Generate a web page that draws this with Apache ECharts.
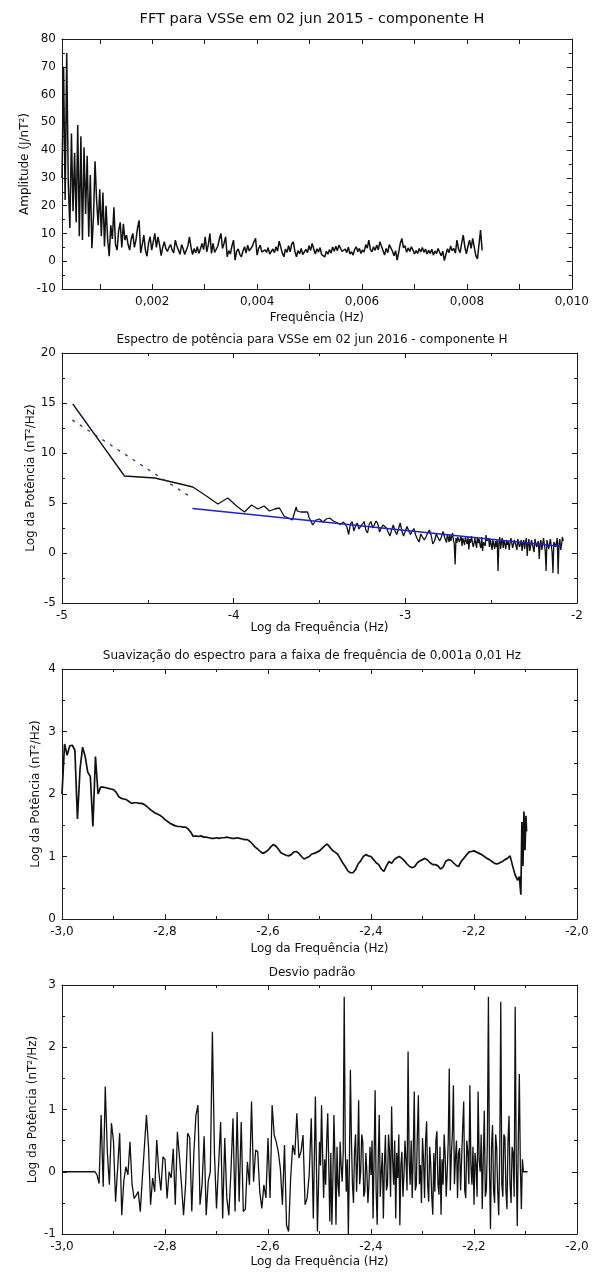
<!DOCTYPE html>
<html>
<head>
<meta charset="utf-8">
<script src="https://cdn.jsdelivr.net/npm/echarts@6/dist/echarts.min.js"></script>
<style>
  html, body { margin: 0; padding: 0; background: #fff; }
  #chart { width: 592px; height: 1273px; }
</style>
</head>
<body>
<div id="chart"></div>
<script>
// Panel 1 - FFT amplitude, one value every 0.00003 Hz from 0.00028 Hz
const fftFreqStart = 0.00028
const fftFreqStep = 0.00003
const fftAmp = [
  30, 70, 22, 75, 28, 12, 46, 18, 39, 14,
  49, 9, 45, 7.6, 41, 17, 38, 8.8, 31, 4.7,
  16, 36, 21.8, 13, 25.9, 9, 24.7, 5.3, 20, 8,
  1.8, 12.9, 8, 19.4, 6, 4, 11, 14, 5, 13.5,
  7.6, 9.4, 6, 4, 8, 10, 5, 7.6, 12, 14.7,
  3, 6, 9.4, 4, 1.8, 6.5, 8.8, 4, 7, 10,
  5, 8.8, 6, 2, 5, 7, 4.5, 3.5, 5, 6,
  4, 3, 7.6, 5.5, 4, 2.5, 6, 4.5, 2.4, 2,
  5.5, 8.8, 5, 2.4, 4.6, 3, 5.2, 2.8, 4.5, 6.4,
  4.2, 8.8, 3.4, 6, 10, 2.8, 6.4, 3.2, 2.8, 5.4,
  8, 10, 4.6, 6.5, 8.8, 1.6, 3.8, 2.6, 5.5, 7.6,
  0.4, 3.6, 4.4, 2.5, 1.6, 3.6, 5.2, 2.9, 5.8, 3.7,
  3.2, 5.4, 7, 8.2, 2.2, 4.6, 5.8, 3.3, 2.6, 4.1,
  3.2, 4.9, 2.6, 2.2, 4.4, 3.1, 5.2, 3.6, 7.2, 7.8,
  3, 1.6, 4.4, 3.2, 5.6, 3.4, 6.2, 7, 3.6, 1.6,
  3.8, 2.7, 4.6, 2.4, 2.2, 4.3, 3.1, 5.6, 3.9, 6.4,
  4.4, 2.6, 4.5, 3.3, 4.9, 2.4, 3.1, 1.6, 3.6, 2.5,
  4.2, 2.9, 5.1, 3.6, 5.4, 3.8, 5.8, 6.2, 3.5, 2.8,
  4.4, 3.1, 5.1, 2.6, 3.4, 2.2, 4.3, 5.2, 3.4, 4.6,
  2.8, 4.1, 3.3, 6, 4.7, 7.6, 4.2, 3.4, 5.2, 3.9,
  5.8, 4.1, 7, 7.6, 3.9, 2.2, 4.6, 3.1, 6, 6.4,
  3.6, 2, 3.8, 0.4, 3.3, 6.5, 8.2, 4.8, 5.6, 3.2,
  4.8, 3.5, 5.2, 4.1, 2.6, 3.8, 2.8, 4.6, 3.3, 4.9,
  3.2, 4.4, 2.6, 3.9, 2.8, 4.3, 2.2, 3.7, 2.7, 4.6,
  3.2, 2, 3.6, 0.2, 2.5, 4.5, 3.1, 5.5, 3.8, 4.6,
  2.9, 7.6, 4.4, 3.1, 6.5, 9.4, 5.2, 2.7, 5.4, 7.6,
  4.6, 8.2, 5, 2, 0.8, 6, 11.2, 3.9
]
const fftXLabels = [0.002, 0.004, 0.006, 0.008, 0.010]
const fftXTicks = [0.001, 0.002, 0.003, 0.004, 0.005, 0.006, 0.007, 0.008, 0.009, 0.010]

// Panel 2 - power spectrum (log-log): first harmonics, then every 0.01, then every 0.005
const specLowLogF = [-4.937, -4.636, -4.460, -4.335, -4.238, -4.159, -4.092, -4.034, -3.983, -3.937,
  -3.896, -3.858, -3.823, -3.791, -3.761, -3.733, -3.707, -3.682, -3.658, -3.636]
const specLowPow = [14.9, 7.7, 7.5, 7.0, 6.6, 5.7, 4.9, 5.5, 4.7, 4.1,
  4.8, 4.4, 4.7, 4.2, 4.4, 4.5, 3.7, 3.5, 3.3, 4.6]
const specMidStart = -3.63
const specMidStep = 0.01
const specMidPow = [
  4.2, 4.0, 4.1, 4.05, 4.1, 4.2, 4.1, 3.5, 3.2, 2.8,
  2.9, 3.3, 3.3, 3.4, 3.5, 3.1, 2.95, 3.4, 3.45, 3.5,
  3.3, 3.2, 3.1, 3.05, 3.0, 2.85, 2.8, 3.1, 3.3, 2.6,
  1.85, 2.9, 3.15, 2.2, 2.7, 3.0, 2.4, 2.2, 2.9, 3.15,
  2.3, 2.0, 2.9, 3.15, 2.5, 2.4, 3.2, 2.9, 2.1, 2.5,
  2.8, 2.6, 2.5, 2.1, 1.7, 2.3, 2.8, 2.2, 1.85, 2.4,
  3.0, 2.2, 1.7, 2.2, 2.65, 2.2, 1.85, 2.2, 2.45, 1.8,
  1.4, 1.1, 1.9, 1.85, 1.3, 1.6, 2.0, 2.3, 1.8, 0.9,
  1.2, 1.9, 1.8, 1.2, 1.6, 2.15, 1.5
]
const specHighStart = -2.76
const specHighStep = 0.005
const specHighPow = [
  1.05, 1.9, 1.5, 1.1, 1.85, 1.2, 1.6, 2.0, 1.35, 0.9,
  -1.15, 1.5, 1.0, 1.6, 1.8, 1.1, 1.2, 1.7, 0.7, 1.5,
  1.3, 0.8, 1.65, 1.2, 0.9, 1.6, 0.35, 1.4, 1.0, 1.7,
  1.5, 0.6, 0.9, 1.5, 1.0, 0.5, 1.6, 1.0, 1.4, 0.8,
  0.5, 1.6, 0.2, 1.1, 1.3, 0.7, 1.8, 1.2, 1.0, 1.5,
  0.6, 1.4, 1.2, 0.3, 1.3, 1.5, 0.4, 1.2, 0.6, 1.3,
  -1.8, 1.0, 1.6, 0.4, 1.1, 1.5, 0.5, 1.2, 0.9, 0.4,
  1.3, 0.8, 1.15, 0.3, 1.0, 1.5, 1.4, 0.5, 0.6, 1.3,
  1.2, 0.7, 0.3, 1.4, 1.5, 0.6, 0.9, 1.3, 0.2, 1.0,
  1.3, 0.4, 1.1, 1.5, -0.3, 0.9, 1.4, 0.2, 0.7, 1.3,
  1.2, 0.5, 0.1, 1.4, 1.5, 0.6, 0.8, 1.2, -0.6, 0.9,
  1.3, 0.3, 0.9, 1.5, 1.4, 0.2, -1.8, 1.3, 1.2, 0.4,
  0.6, 1.4, 1.5, 0.1, -2.0, 1.1, 1.3, 0.6, 0.5, 1.5,
  -2.1, 0.9, 1.4, 0.3, 0.8, 1.6, 1.2
]
// fitted straight lines
const fitLogF = [-4.24, -2.09]
const fitPow = [4.45, 0.65]
const dashLogF = [-4.94, -4.26]
const dashPow = [13.3, 5.7]

// Panel 3 - smoothed spectrum, every 0.005 from -3.0, plus the ragged tail
const smoothStart = -3.0
const smoothStep = 0.005
const smoothPow = [
  2.0, 2.8, 2.62, 2.77, 2.78, 2.7, 1.6, 2.4, 2.75, 2.6,
  2.35, 2.28, 1.48, 2.6, 2.0, 2.11, 2.11, 2.1, 2.09, 2.08,
  2.07, 2.03, 1.96, 1.93, 1.92, 1.91, 1.88, 1.85, 1.86, 1.86,
  1.85, 1.85, 1.83, 1.8, 1.76, 1.73, 1.7, 1.68, 1.66, 1.63,
  1.59, 1.56, 1.53, 1.51, 1.49, 1.48, 1.48, 1.47, 1.47, 1.44,
  1.39, 1.32, 1.33, 1.32, 1.33, 1.31, 1.31, 1.3, 1.29, 1.29,
  1.3, 1.29, 1.3, 1.3, 1.31, 1.3, 1.29, 1.29, 1.3, 1.29,
  1.28, 1.27, 1.27, 1.24, 1.2, 1.15, 1.12, 1.08, 1.05, 1.07,
  1.1, 1.15, 1.19, 1.17, 1.12, 1.06, 1.04, 1.02, 1.01, 1.03,
  1.07, 1.08, 1.05, 1.0, 0.96, 0.98, 1.0, 1.04, 1.05, 1.07,
  1.09, 1.13, 1.17, 1.2, 1.15, 1.1, 1.07, 1.04, 0.97, 0.9,
  0.84, 0.77, 0.74, 0.74, 0.79, 0.88, 0.93, 1.0, 1.03, 1.01,
  1.0, 0.95, 0.9, 0.87, 0.8, 0.76, 0.85, 0.92, 0.89, 0.95,
  0.98, 1.0, 0.97, 0.93, 0.88, 0.84, 0.82, 0.84, 0.9, 0.93,
  0.95, 0.97, 0.94, 0.9, 0.87, 0.87, 0.85, 0.8, 0.83, 0.92,
  0.95, 0.94, 0.9, 0.86, 0.84, 0.92, 0.97, 1.02, 1.07, 1.08,
  1.09, 1.07, 1.05, 1.03, 1.0, 0.97, 0.95, 0.92, 0.89, 0.88,
  0.9, 0.92, 0.95, 0.97, 1.01, 0.85, 0.7, 0.62
]
const smoothTailLogF = [-2.112, -2.109, -2.107, -2.105, -2.103, -2.101, -2.099, -2.098]
const smoothTailPow = [0.68, 0.39, 1.55, 0.85, 1.72, 1.1, 1.65, 1.4]

// Panel 4 - standard deviation, every 0.004 from -3.0, then every 0.002 from -2.5
const stdStart = -3.0
const stdStep = 0.004
const stdPow = [
  0, 0, 0, 0, 0, 0, 0, 0, 0, 0, 0, 0, 0, 0, 0, 0, 0,
  -0.05, -0.19, 0.91,
  -0.24, 1.37, 0.32, -0.21, 0.78, 0.49, -0.48, 0.05, 0.62, -0.7,
  -0.15, 0.08, -0.05, 0.48, -0.2, -0.43, -0.38, -0.32, -0.64, -0.1,
  0.4, 0.91, 0.4, -0.53, -0.1, -0.32, 0.51, 0.0, -0.3, 0.24,
  0.2, -0.43, 0.0, -0.1, 0.37, -0.53, 0.64, 0.25, -0.2, -0.7,
  -0.2, 0.62, 0.55, -0.64, 0.3, 0.9, 1.07, -0.53, -0.2, 0.57,
  -0.7, -0.15, 0.0, 2.25, 0.3, -0.59, 0.1, 0.8, -0.75, 0.54,
  -0.42, -0.7, 0.0, 0.86, -0.64, 0.96, -0.48, 0.8, -0.64, -0.6,
  0.16, -0.21, 1.13, -0.16, 0.35, 0.32, -0.32, -0.59, -0.21, -0.42,
  0.54, -0.42, 1.07, 0.59, 0.48, 0.32, 0.05, -0.53, 0.43, -0.86,
  -0.96, -0.1, 0.43, 0.27, 0.94, 0.22, 0.32, 0.59, -0.53, -0.42,
  -0.05, 0.86, -0.75, 1.21, -0.96
]
const stdDenseStart = -2.5
const stdDenseStep = 0.002
const stdDensePow = [
  0.48, 0.1, 1.07, 0.3, -0.42, 0.2, -0.21, 0.5, 0.94, 0.1,
  -0.8, 0.3, -0.85, -0.1, 0.91, 0.2, -0.85, 0.4, -0.21, -0.4,
  0.48, 0.1, -0.16, 0.3, 2.81, 0.4, -0.32, 0.2, -1.0, 0.1,
  1.64, 0.5, -0.21, -0.5, 0.32, 0.6, -0.32, 0.2, 1.15, -0.2,
  0.0, 0.6, 0.48, -0.4, -0.32, 0.3, 0.0, -0.5, -0.21, 0.4,
  -0.05, 0.5, -0.75, 0.2, 1.31, -0.3, -0.85, 0.2, 0.91, -0.4,
  0.0, 0.3, -0.75, 0.1, 0.59, -0.3, -0.21, 0.6, 0.32, -0.4,
  1.05, 0.2, -0.21, 0.5, -0.75, 0.3, -0.1, 0.6, -0.86, 0.1,
  0.32, -0.4, -0.05, 0.5, 0.16, -0.3, 1.93, 0.2, -0.21, 0.5,
  -0.42, 0.3, 1.29, -0.3, -0.21, 0.6, 1.23, -0.2, 0.11, -0.5,
  0.54, 0.2, -0.42, 0.5, 0.81, -0.2, -0.48, 0.4, 0.11, -0.4,
  -0.69, 0.3, -0.32, 0.5, 0.65, -0.2, -0.37, 0.4, -0.69, 0.2,
  -0.21, 0.6, 0.27, -0.4, 0.0, 0.5, 1.66, -0.3, 0.27, 0.6,
  1.39, -0.2, 0.22, 0.5, -0.42, 0.3, 0.38, -0.3, 0.22, 0.7,
  1.13, -0.3, -0.42, 0.5, 0.32, -0.2, 1.39, 0.1, -0.21, 0.4,
  -0.53, 0.3, 0.11, -0.4, 1.29, 0.2, 0.0, 0.6, -0.6, 0.2,
  0.98, -0.4, -0.3, 0.5, 2.81, 0.1, -0.92, 0.4, 0.75, -0.3,
  -0.5, 0.6, 0.4, -0.3, -0.7, 0.3, 2.73, -0.2, -0.4, 0.6,
  0.55, -0.3, -0.6, 0.5, 0.9, -0.2, -0.5, 0.4, 0.3, -0.4,
  2.65, 0.2, -0.87, 0.5, 1.57, 0.1, -0.6, 0.2, 0, 0,
  0, 0, 0
]

const titles = [
  'FFT para VSSe em 02 jun 2015 - componente H',
  'Espectro de potência para VSSe em 02 jun 2016 - componente H',
  'Suavização do espectro para a faixa de frequência de 0,001a 0,01 Hz',
  'Desvio padrão'
]

const ink = '#111'
const frame = '#1c1c1c'
const font = 'DejaVu Sans'

function grid (top, height) {
  return { left: 62, width: 515, top: top, height: height }
}

function pairs (xs, ys) {
  return ys.map((v, i) => [xs[i], v])
}

function gridded (start, step, ys) {
  return ys.map((v, i) => [start + i * step, v])
}

function comma (digits) {
  return v => v.toFixed(digits).replace('.', ',')
}

function axisCommon (g, o) {
  return {
    type: 'value',
    gridIndex: g,
    min: o.min,
    max: o.max,
    interval: o.interval,
    splitLine: { show: false },
    axisLine: { show: true, onZero: false, lineStyle: { color: frame, width: 1 } },
    axisTick: { show: true, inside: true, length: 5, lineStyle: { color: frame }, customValues: o.ticks },
    minorTick: { show: !o.ticks, splitNumber: 2, length: 3, lineStyle: { color: frame } }
  }
}

function xPair (g, o) {
  const main = Object.assign(axisCommon(g, o), {
    position: 'bottom',
    name: o.name,
    nameLocation: 'middle',
    nameGap: o.nameGap,
    nameMoveOverlap: false,
    nameTextStyle: { fontFamily: font, fontSize: 12, color: ink },
    axisLabel: { fontFamily: font, fontSize: 12, color: ink, margin: 7, formatter: o.fmt, customValues: o.labels }
  })
  const mirror = Object.assign(axisCommon(g, o), { position: 'top', axisLabel: { show: false } })
  return [main, mirror]
}

function yPair (g, o) {
  const main = Object.assign(axisCommon(g, o), {
    position: 'left',
    name: o.name,
    nameLocation: 'middle',
    nameGap: o.nameGap,
    nameMoveOverlap: false,
    nameTextStyle: { fontFamily: font, fontSize: 12, color: ink },
    axisLabel: { fontFamily: font, fontSize: 12, color: ink, margin: 6, formatter: o.fmt }
  })
  const mirror = Object.assign(axisCommon(g, o), { position: 'right', axisLabel: { show: false } })
  return [main, mirror]
}

function line (g, data, width, extra) {
  return Object.assign({
    type: 'line',
    xAxisIndex: g * 2,
    yAxisIndex: g * 2,
    data: data,
    showSymbol: false,
    symbol: 'none',
    silent: true,
    lineStyle: { color: ink, width: width }
  }, extra || {})
}

const potName = 'Log da Potência (nT²/Hz)'
const logFreqName = 'Log da Frequência (Hz)'

const option = {
  animation: false,
  backgroundColor: '#fff',
  title: [
    { text: titles[0], left: 312, top: 12, textAlign: 'center', padding: 0, textStyle: { fontFamily: font, fontSize: 14.5, fontWeight: 'normal', color: ink } },
    { text: titles[1], left: 312, top: 334, textAlign: 'center', padding: 0, textStyle: { fontFamily: font, fontSize: 12, fontWeight: 'normal', color: ink } },
    { text: titles[2], left: 312, top: 650, textAlign: 'center', padding: 0, textStyle: { fontFamily: font, fontSize: 12, fontWeight: 'normal', color: ink } },
    { text: titles[3], left: 312, top: 967, textAlign: 'center', padding: 0, textStyle: { fontFamily: font, fontSize: 12, fontWeight: 'normal', color: ink } }
  ],
  grid: [grid(39, 250), grid(353, 250), grid(669, 250), grid(985, 249)],
  xAxis: [].concat(
    xPair(0, { min: fftFreqStart, max: 0.010, name: 'Frequência (Hz)', nameGap: 23, fmt: comma(3), labels: fftXLabels, ticks: fftXTicks }),
    xPair(1, { min: -5, max: -2, interval: 1, name: logFreqName, nameGap: 19, fmt: v => String(v) }),
    xPair(2, { min: -3, max: -2, interval: 0.2, name: logFreqName, nameGap: 24, fmt: comma(1) }),
    xPair(3, { min: -3, max: -2, interval: 0.2, name: logFreqName, nameGap: 22, fmt: comma(1) })
  ),
  yAxis: [].concat(
    yPair(0, { min: -10, max: 80, interval: 10, name: 'Amplitude (J/nT²)', nameGap: 31, fmt: v => String(v) }),
    yPair(1, { min: -5, max: 20, interval: 5, name: potName, nameGap: 25, fmt: v => String(v) }),
    yPair(2, { min: 0, max: 4, interval: 1, name: potName, nameGap: 20, fmt: v => String(v) }),
    yPair(3, { min: -1, max: 3, interval: 1, name: potName, nameGap: 23, fmt: v => String(v) })
  ),
  series: [
    line(0, gridded(fftFreqStart, fftFreqStep, fftAmp), 1.5),
    line(1, pairs(specLowLogF, specLowPow)
      .concat(gridded(specMidStart, specMidStep, specMidPow))
      .concat(gridded(specHighStart, specHighStep, specHighPow)), 1.3),
    line(1, pairs(fitLogF, fitPow), 1.6, { lineStyle: { color: '#2020d0', width: 1.6 } }),
    line(1, pairs(dashLogF, dashPow), 1.3, { lineStyle: { color: '#2b2b8f', width: 1.3, type: [3, 6] } }),
    line(2, gridded(smoothStart, smoothStep, smoothPow).concat(pairs(smoothTailLogF, smoothTailPow)), 1.7),
    line(3, gridded(stdStart, stdStep, stdPow).concat(gridded(stdDenseStart, stdDenseStep, stdDensePow)), 1.3)
  ]
}

const chart = echarts.init(document.getElementById('chart'), null, { renderer: 'canvas' })
chart.setOption(option)
</script>
</body>
</html>
